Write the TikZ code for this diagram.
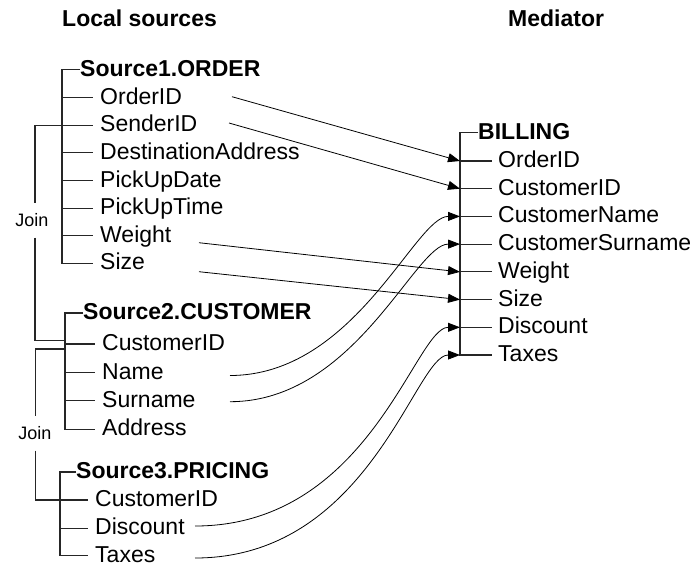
\documentclass[tikz,border=0pt]{standalone}
\usepackage{fontspec}
\setmainfont{Liberation Sans}
\usetikzlibrary{arrows.meta}
\begin{document}
\begin{tikzpicture}[x=1pt,y=-1pt,
  every node/.style={font=\fontsize{23}{27}\selectfont},
  hdr/.style={anchor=base west,inner sep=0pt,font=\fontsize{23}{27}\selectfont\bfseries},
  ttl/.style={anchor=west,inner sep=0pt,text height=17pt,text depth=4pt,font=\fontsize{23}{27}\selectfont\bfseries},
  fld/.style={anchor=west,inner xsep=7pt,inner ysep=0pt,text height=17pt,text depth=4pt},
  tree/.style={line width=1.1pt,draw=black!85},
  link/.style={line width=0.8pt,-{Triangle[length=12pt,width=9pt]}},
  joinlbl/.style={font=\fontsize{18}{20}\selectfont,inner sep=0pt,minimum height=34pt}
]
\useasboundingbox (0,0) rectangle (693,566);

% column headings
\node[hdr] (hl) at (62,26) {Local sources};
\node[hdr] (hm) at (508,26) {Mediator};

% Source1.ORDER
\coordinate (t1) at (62,69.5);
\node[ttl] (s1) at (80,69.5) {Source1.ORDER};
\node[fld] (s1a) at (93,97.7)  {OrderID};
\node[fld] (s1b) at (93,125.3) {SenderID};
\node[fld] (s1c) at (93,152.9) {DestinationAddress};
\node[fld] (s1d) at (93,180.5) {PickUpDate};
\node[fld] (s1e) at (93,208.1) {PickUpTime};
\node[fld] (s1f) at (93,235.7) {Weight};
\node[fld] (s1g) at (93,263.3) {Size};
\draw[tree] (s1.west) -- (t1) -- (t1 |- s1g.west) -- (s1g.west);
\foreach \r in {s1a,s1b,s1c,s1d,s1e,s1f}
  \draw[tree] (\r.west -| t1) -- (\r.west);

% Source2.CUSTOMER
\coordinate (t2) at (65,313);
\node[ttl] (s2) at (83,313) {Source2.CUSTOMER};
\node[fld] (s2a) at (95,344)   {CustomerID};
\node[fld] (s2b) at (95,372.7) {Name};
\node[fld] (s2c) at (95,400.7) {Surname};
\node[fld] (s2d) at (95,429.3) {Address};
\draw[tree] (s2.west) -- (t2) -- (t2 |- s2d.west) -- (s2d.west);
\foreach \r in {s2a,s2b,s2c}
  \draw[tree] (\r.west -| t2) -- (\r.west);

% Source3.PRICING
\coordinate (t3) at (60,472);
\node[ttl] (s3) at (76,472) {Source3.PRICING};
\node[fld] (s3a) at (88,500)   {CustomerID};
\node[fld] (s3b) at (88,528.2) {Discount};
\node[fld] (s3c) at (88,555.5) {Taxes};
\draw[tree] (s3.west) -- (t3) -- (t3 |- s3c.west) -- (s3c.west);
\foreach \r in {s3a,s3b}
  \draw[tree] (\r.west -| t3) -- (\r.west);

% BILLING
\coordinate (tb) at (460,132.7);
\node[ttl] (mb) at (478,132.7) {BILLING};
\node[fld,inner xsep=6pt] (m1) at (492,161)   {OrderID};
\node[fld,inner xsep=6pt] (m2) at (492,188.7) {CustomerID};
\node[fld,inner xsep=6pt] (m3) at (492,216.4) {CustomerName};
\node[fld,inner xsep=6pt] (m4) at (492,244.1) {CustomerSurname};
\node[fld,inner xsep=6pt] (m5) at (492,271.9) {Weight};
\node[fld,inner xsep=6pt] (m6) at (492,299.6) {Size};
\node[fld,inner xsep=6pt] (m7) at (492,327.3) {Discount};
\node[fld,inner xsep=6pt] (m8) at (492,355)   {Taxes};
\draw[tree] (mb.west) -- (tb) -- (tb |- m8.west) -- (m8.west);
\foreach \r in {m1,m2,m3,m4,m5,m6,m7}
  \draw[tree] (\r.west -| tb) -- (\r.west);

% join of ORDER.SenderID with CUSTOMER.CustomerID
\coordinate (j1) at (35,0);
\coordinate (jb1) at (65,340.7);
\node[joinlbl] (jl1) at (32,220.5) {Join};
\draw[tree] (s1b.west -| t1) -- (s1b.west -| j1) -- (j1 |- jl1.north);
\draw[tree] (j1 |- jl1.south) -- (j1 |- jb1) -- (jb1);

% join of CUSTOMER.CustomerID with PRICING.CustomerID
\coordinate (j2) at (35.5,0);
\coordinate (jt2) at (65,349);
\node[joinlbl] (jl2) at (35,433.5) {Join};
\draw[tree] (jt2) -- (j2 |- jt2) -- (j2 |- jl2.north);
\draw[tree] (j2 |- jl2.south) -- (j2 |- s3a.west) -- (s3a.west -| t3);

% mappings into the mediator
\coordinate (o1) at (232,96.7);
\coordinate (o2) at (229,123);
\coordinate (o3) at (199,242.7);
\coordinate (o4) at (199,271.7);
\coordinate (c1) at (230,375.5);
\coordinate (c2) at (230,401.7);
\coordinate (p1) at (195,526);
\coordinate (p2) at (195,558);
\draw[link] (o1) -- (m1.west -| tb);
\draw[link] (o2) -- (m2.west -| tb);
\draw[link] (o3) -- (m5.west -| tb);
\draw[link] (o4) -- (m6.west -| tb);
\draw[link] (c1) .. controls +(125,0) and +(-45,0) .. (m3.west -| tb);
\draw[link] (c2) .. controls +(125,0) and +(-45,0) .. (m4.west -| tb);
\draw[link] (p1) .. controls +(175,0) and +(-45,0) .. (m7.west -| tb);
\draw[link] (p2) .. controls +(175,0) and +(-45,0) .. (m8.west -| tb);
\end{tikzpicture}
\end{document}
